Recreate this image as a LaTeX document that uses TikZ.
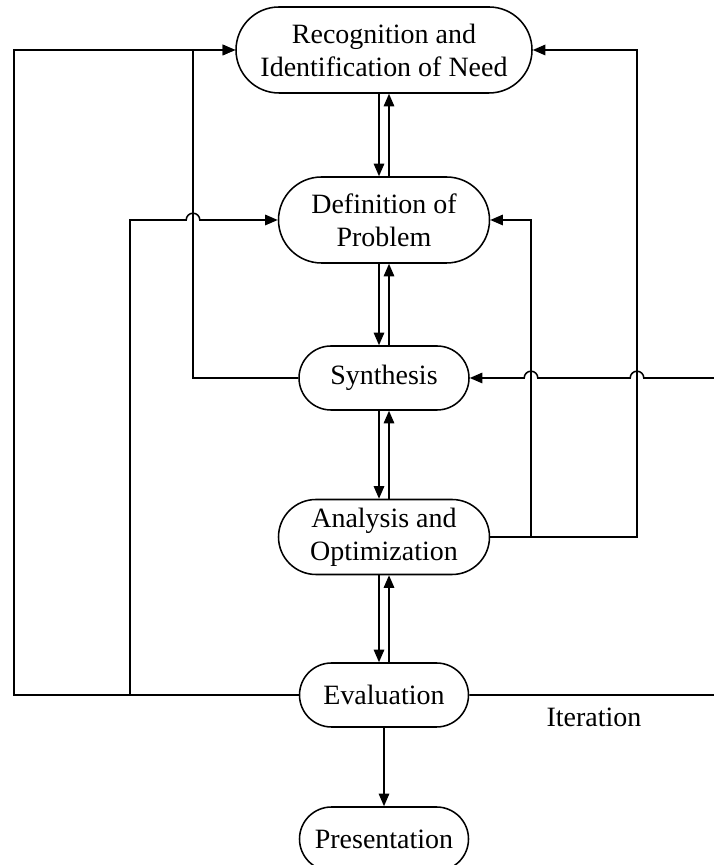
\documentclass[tikz,border=0pt]{standalone}
\usepackage{fontspec}
\setmainfont{Liberation Serif}
\usetikzlibrary{arrows.meta,calc,shapes.misc}
\tikzset{
	stage/.style={draw, rounded rectangle, line width=1.1pt, align=center, inner sep=0pt, font=\fontsize{19.9}{23.4}\selectfont},
	flow/.style={line width=1.1pt, -{Triangle[length=9pt,width=7.5pt]}},
}

\begin{document}
\begin{tikzpicture}
			%%%%% START %%%%%
			
			\useasboundingbox (0, 0) rectangle (17.825, 21.625);
			
			\coordinate (farleft) at (0.35, 0);
			\coordinate (midleft) at (3.25, 0);
			\coordinate (synleft) at (4.825, 0);
			\coordinate (righta) at (13.275, 0);
			\coordinate (rightb) at (15.925, 0);
			\coordinate (edge) at (17.95, 0);
			
			\node[stage, minimum width=7.4cm, minimum height=2.15cm] (need) at (9.6, 20.375) {Recognition and\\Identification of Need};
			\node[stage, minimum width=5.275cm, minimum height=2.15cm] (def) at (9.6, 16.125) {Definition of\\Problem};
			\node[stage, minimum width=4.25cm, minimum height=1.6cm] (syn) at (9.6, 12.175) {Synthesis};
			\node[stage, minimum width=5.275cm, minimum height=1.875cm] (ana) at (9.6, 8.2) {Analysis and\\Optimization};
			\node[stage, minimum width=4.225cm, minimum height=1.6cm] (eval) at (9.6, 4.25) {Evaluation};
			\node[stage, minimum width=4.225cm, minimum height=1.6cm] (pres) at (9.6, 0.65) {Presentation};
			\node[font=\fontsize{19.9}{23.4}\selectfont] (iter) at (14.85, 3.7) {Iteration};
			
			\draw[flow] ([xshift=-0.125cm]need.south) -- ([xshift=-0.125cm]def.north);
			\draw[flow] ([xshift=0.125cm]def.north) -- ([xshift=0.125cm]need.south);
			\draw[flow] ([xshift=-0.125cm]def.south) -- ([xshift=-0.125cm]syn.north);
			\draw[flow] ([xshift=0.125cm]syn.north) -- ([xshift=0.125cm]def.south);
			\draw[flow] ([xshift=-0.125cm]syn.south) -- ([xshift=-0.125cm]ana.north);
			\draw[flow] ([xshift=0.125cm]ana.north) -- ([xshift=0.125cm]syn.south);
			\draw[flow] ([xshift=-0.125cm]ana.south) -- ([xshift=-0.125cm]eval.north);
			\draw[flow] ([xshift=0.125cm]eval.north) -- ([xshift=0.125cm]ana.south);
			\draw[flow] (eval.south) -- (pres.north);
			
			\draw[flow] (eval.west) -- (eval.west -| farleft) -- (need.west -| farleft) -- (need.west);
			\draw[flow] (syn.west) -- (syn.west -| synleft) -- (need.west -| synleft) -- (need.west);
			\draw[flow] (eval.west -| midleft) -- (def.west -| midleft) -- ($(def.west -| synleft)+(-0.17, 0)$) arc (180:0:0.17) -- (def.west);
			
			\draw[flow] (ana.east) -- (ana.east -| rightb) -- (need.east -| rightb) -- (need.east);
			\draw[flow] (ana.east -| righta) -- (def.east -| righta) -- (def.east);
			\draw[flow] (eval.east) -- (eval.east -| edge) -- (syn.east -| edge) -- ($(syn.east -| rightb)+(0.17, 0)$) arc (0:180:0.17) -- ($(syn.east -| righta)+(0.17, 0)$) arc (0:180:0.17) -- (syn.east);
			
			%%%%% END %%%%%
\end{tikzpicture}
\end{document}
